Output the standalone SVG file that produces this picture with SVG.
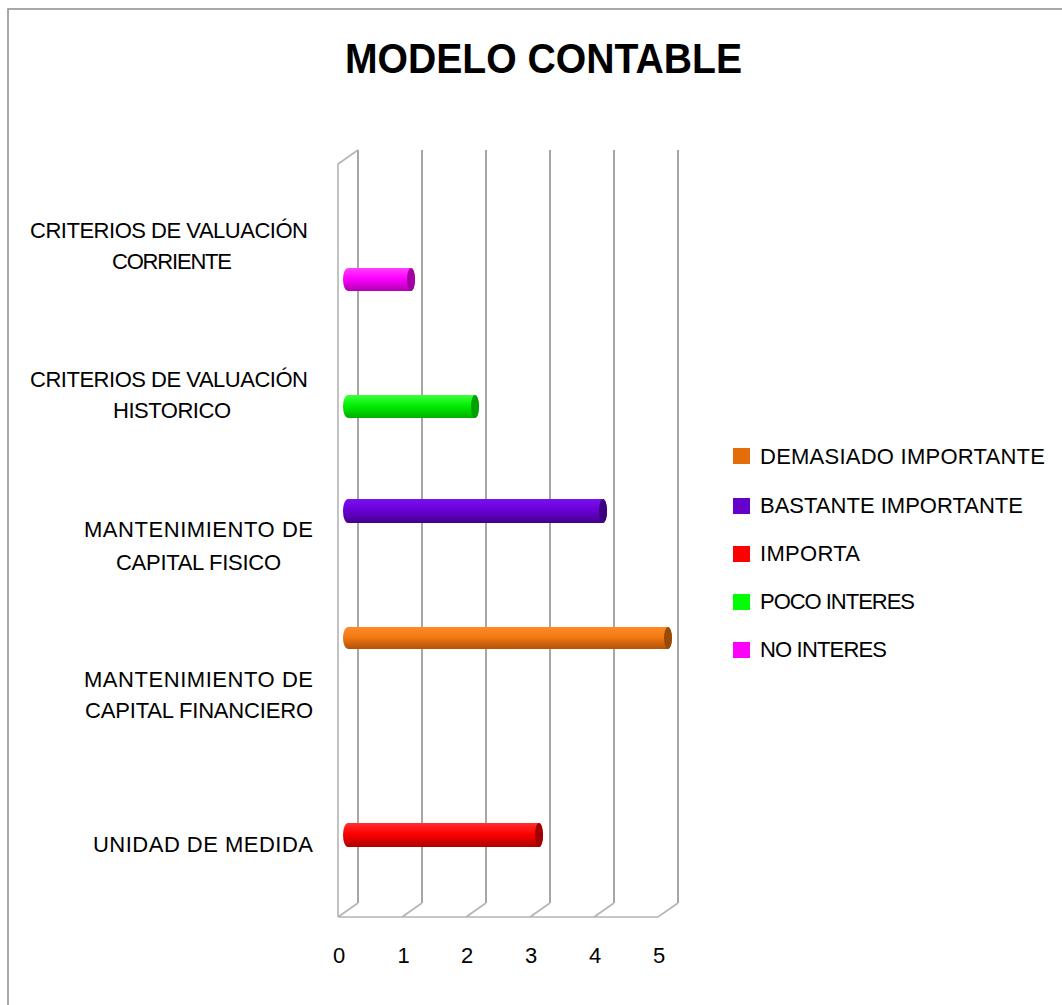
<svg xmlns="http://www.w3.org/2000/svg" width="1062" height="1005" viewBox="0 0 1062 1005">
<style>
.lbl{font-family:"Liberation Sans",Arial,sans-serif;font-size:22px;fill:#000}
.title{font-family:"Liberation Sans",Arial,sans-serif;font-size:42px;font-weight:bold;fill:#000}
.grid{stroke:#a6a6a6;stroke-width:2;fill:none}
.edge{stroke:#b4b4b4;stroke-width:1.6;fill:none}
</style>
<defs>
<linearGradient id="gM" x1="0" y1="0" x2="0" y2="1"><stop offset="0" stop-color="#ff40ff"/><stop offset="0.45" stop-color="#ff00ff"/><stop offset="1" stop-color="#b000b0"/></linearGradient>
<linearGradient id="gG" x1="0" y1="0" x2="0" y2="1"><stop offset="0" stop-color="#40ff40"/><stop offset="0.45" stop-color="#00f000"/><stop offset="1" stop-color="#00b000"/></linearGradient>
<linearGradient id="gP" x1="0" y1="0" x2="0" y2="1"><stop offset="0" stop-color="#7a10ee"/><stop offset="0.45" stop-color="#6a00d8"/><stop offset="1" stop-color="#44008c"/></linearGradient>
<linearGradient id="gO" x1="0" y1="0" x2="0" y2="1"><stop offset="0" stop-color="#ff8a2a"/><stop offset="0.45" stop-color="#f57a12"/><stop offset="1" stop-color="#b05208"/></linearGradient>
<linearGradient id="gR" x1="0" y1="0" x2="0" y2="1"><stop offset="0" stop-color="#ff3030"/><stop offset="0.45" stop-color="#ff0000"/><stop offset="1" stop-color="#b00000"/></linearGradient>
</defs>
<rect x="0" y="0" width="1062" height="1005" fill="#fff"/>
<rect x="8" y="9" width="1100" height="1100" fill="#fff" stroke="#8c8c8c" stroke-width="1.5"/>
<g id="title"><text class="title" x="345" y="73" textLength="397" lengthAdjust="spacingAndGlyphs">MODELO CONTABLE</text></g>
<g id="axes">
<path class="grid" d="M358 150V903M422 150V903M486 150V903M550 150V903M614 150V903M678 150V903"/>
<path class="edge" d="M338 917V164L358 150M338 917H658L678 903M358 903L338 917M422 903L402 917M486 903L466 917M550 903L530 917M614 903L594 917"/>
<g class="lbl" text-anchor="middle">
<text x="339" y="963">0</text><text x="403.5" y="963">1</text><text x="467" y="963">2</text><text x="531" y="963">3</text><text x="595" y="963">4</text><text x="659" y="963">5</text>
</g>
</g>
<g id="categories" class="lbl">
<text x="30" y="238" textLength="278" lengthAdjust="spacing">CRITERIOS DE VALUACIÓN</text>
<text x="112" y="269" textLength="120" lengthAdjust="spacing">CORRIENTE</text>
<text x="30" y="387" textLength="278" lengthAdjust="spacing">CRITERIOS DE VALUACIÓN</text>
<text x="113" y="418" textLength="118" lengthAdjust="spacing">HISTORICO</text>
<text x="84" y="537" textLength="229" lengthAdjust="spacing">MANTENIMIENTO DE</text>
<text x="116" y="570" textLength="165" lengthAdjust="spacing">CAPITAL FISICO</text>
<text x="84" y="687" textLength="229" lengthAdjust="spacing">MANTENIMIENTO DE</text>
<text x="85" y="718" textLength="228" lengthAdjust="spacing">CAPITAL FINANCIERO</text>
<text x="93" y="852" textLength="220" lengthAdjust="spacing">UNIDAD DE MEDIDA</text>
</g>
<g id="bar-no-interes">
<path d="M348 268H411A4 11.5 0 0 1 411 291H348A5 11.5 0 0 1 348 268Z" fill="url(#gM)"/>
<ellipse cx="411" cy="279.5" rx="4" ry="11.5" fill="#a000a0"/>
</g>
<g id="bar-poco-interes">
<path d="M348 395H475A4 11.5 0 0 1 475 418H348A5 11.5 0 0 1 348 395Z" fill="url(#gG)"/>
<ellipse cx="475" cy="406.5" rx="4" ry="11.5" fill="#00a000"/>
</g>
<g id="bar-bastante">
<path d="M348 499H603A4 12 0 0 1 603 523H348A5 12 0 0 1 348 499Z" fill="url(#gP)"/>
<ellipse cx="603" cy="511" rx="4" ry="12" fill="#3c0080"/>
</g>
<g id="bar-demasiado">
<path d="M348 627H668A4 11 0 0 1 668 649H348A5 11 0 0 1 348 627Z" fill="url(#gO)"/>
<ellipse cx="668" cy="638" rx="4" ry="11" fill="#9a4a08"/>
</g>
<g id="bar-importa">
<path d="M348 823H539A4 12 0 0 1 539 847H348A5 12 0 0 1 348 823Z" fill="url(#gR)"/>
<ellipse cx="539" cy="835" rx="4" ry="12" fill="#a00000"/>
</g>
<g id="legend" class="lbl">
<rect x="733" y="448" width="17" height="16" fill="#e46c0a"/>
<text x="760" y="464" textLength="285" lengthAdjust="spacing">DEMASIADO IMPORTANTE</text>
<rect x="733" y="498" width="17" height="16" fill="#6600cc"/>
<text x="760" y="513" textLength="263" lengthAdjust="spacing">BASTANTE IMPORTANTE</text>
<rect x="733" y="546" width="17" height="16" fill="#ff0000"/>
<text x="760" y="561" textLength="100" lengthAdjust="spacing">IMPORTA</text>
<rect x="733" y="594" width="17" height="16" fill="#00ff00"/>
<text x="760" y="609" textLength="155" lengthAdjust="spacing">POCO INTERES</text>
<rect x="733" y="642" width="17" height="16" fill="#ff00ff"/>
<text x="760" y="657" textLength="127" lengthAdjust="spacing">NO INTERES</text>
</g>
</svg>
